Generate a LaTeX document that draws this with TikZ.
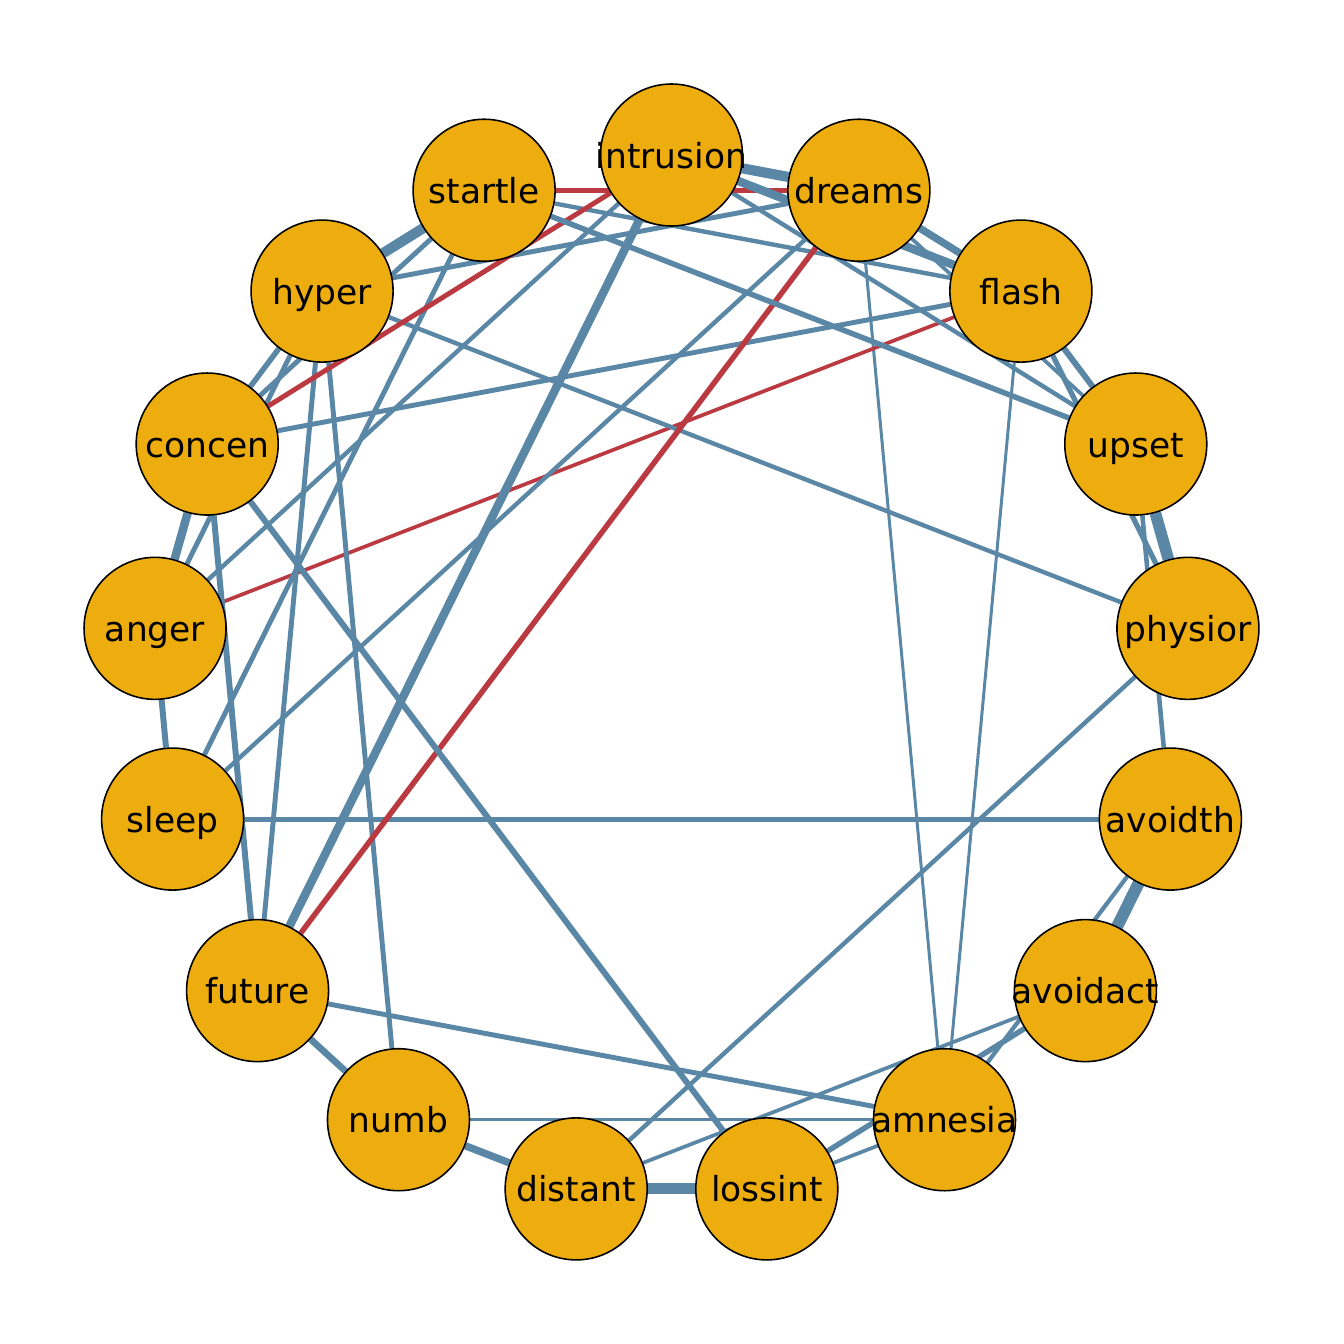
\documentclass[tikz,border=0pt]{standalone}
\usepackage{fontspec}
\setmainfont{DejaVu Sans}
\usetikzlibrary{backgrounds}
\definecolor{nodefill}{RGB}{238,173,14}
\definecolor{posedge}{RGB}{89,135,165}
\definecolor{negedge}{RGB}{187,57,64}

\begin{document}
\begin{tikzpicture}
    \tikzstyle{symptom}     = [circle, draw, line width=0.45pt, fill=nodefill, minimum size=1.42cm, inner sep=0pt]
    \tikzstyle{every label} = [font=\fontsize{9.8}{11}\selectfont, inner sep=0pt, text height=0.74em, text depth=0pt]
    \tikzstyle{poslink}     = [draw, posedge]
    \tikzstyle{neglink}     = [draw, negedge]

    \useasboundingbox (-6.715,-6.676) rectangle (6.725,6.764);

    % Place nodes
    % ring, clockwise from the top:
    \node [symptom, label=center:intrusion] (intrusion) at (90:5.187 and 5.214) {};
    \node [symptom, label=center:dreams]    (dreams)    at (68.82:5.187 and 5.214) {};
    \node [symptom, label=center:flash]     (flash)     at (47.65:5.187 and 5.214) {};
    \node [symptom, label=center:upset]     (upset)     at (26.47:5.187 and 5.214) {};
    \node [symptom, label=center:physior]   (physior)   at (5.29:5.187 and 5.214) {};
    \node [symptom, label=center:avoidth]   (avoidth)   at (-15.88:5.187 and 5.214) {};
    \node [symptom, label=center:avoidact]  (avoidact)  at (-37.06:5.187 and 5.214) {};
    \node [symptom, label=center:amnesia]   (amnesia)   at (-58.24:5.187 and 5.214) {};
    \node [symptom, label=center:lossint]   (lossint)   at (-79.41:5.187 and 5.214) {};
    \node [symptom, label=center:distant]   (distant)   at (-100.59:5.187 and 5.214) {};
    \node [symptom, label=center:numb]      (numb)      at (-121.76:5.187 and 5.214) {};
    \node [symptom, label=center:future]    (future)    at (-142.94:5.187 and 5.214) {};
    \node [symptom, label=center:sleep]     (sleep)     at (-164.12:5.187 and 5.214) {};
    \node [symptom, label=center:anger]     (anger)     at (174.71:5.187 and 5.214) {};
    \node [symptom, label=center:concen]    (concen)    at (153.53:5.187 and 5.214) {};
    \node [symptom, label=center:hyper]     (hyper)     at (132.35:5.187 and 5.214) {};
    \node [symptom, label=center:startle]   (startle)   at (111.18:5.187 and 5.214) {};

    \begin{pgfonlayer}{background}
    % thin ones
    \path [poslink, line width=0.85pt] (numb) -- (amnesia);
    \path [poslink, line width=0.85pt] (amnesia) -- (dreams);
    \path [poslink, line width=0.85pt] (amnesia) -- (flash);
    \path [poslink, line width=1.05pt] (distant) -- (avoidact);
    \path [poslink, line width=1.3pt]  (upset) -- (avoidth);
    \path [poslink, line width=1.05pt] (dreams) -- (upset);
    \path [poslink, line width=1.05pt] (lossint) -- (amnesia);
    \path [poslink, line width=1.2pt]  (avoidth) -- (amnesia);
    \path [neglink, line width=1.05pt] (anger) -- (flash);
    \path [poslink, line width=1.25pt] (distant) -- (physior);
    \path [poslink, line width=1.25pt] (startle) -- (flash);
    \path [poslink, line width=1.25pt] (intrusion) -- (upset);
    \path [poslink, line width=1.25pt] (sleep) -- (dreams);
    \path [poslink, line width=1.25pt] (anger) -- (intrusion);
    \path [poslink, line width=1.25pt] (hyper) -- (physior);
    % medium
    \path [poslink, line width=1.4pt]  (concen) -- (flash);
    \path [poslink, line width=1.4pt]  (hyper) -- (future);
    \path [poslink, line width=1.4pt]  (hyper) -- (numb);
    \path [poslink, line width=1.4pt]  (sleep) -- (avoidth);
    \path [poslink, line width=1.4pt]  (sleep) -- (startle);
    \path [poslink, line width=1.4pt]  (concen) -- (startle);
    \path [poslink, line width=1.4pt]  (anger) -- (hyper);
    \path [poslink, line width=1.4pt]  (hyper) -- (dreams);
    \path [poslink, line width=1.4pt]  (future) -- (amnesia);
    \path [poslink, line width=1.5pt]  (flash) -- (physior);
    \path [neglink, line width=1.4pt]  (startle) -- (dreams);
    \path [neglink, line width=1.4pt]  (concen) -- (intrusion);
    \path [neglink, line width=1.55pt] (future) -- (dreams);
    \path [poslink, line width=1.55pt] (startle) -- (upset);
    \path [poslink, line width=1.55pt] (concen) -- (hyper);
    \path [poslink, line width=1.55pt] (lossint) -- (avoidact);
    \path [poslink, line width=1.7pt]  (anger) -- (sleep);
    \path [poslink, line width=1.7pt]  (concen) -- (future);
    \path [poslink, line width=1.7pt]  (concen) -- (lossint);
    \path [poslink, line width=1.7pt]  (flash) -- (upset);
    % thick ones
    \path [poslink, line width=1.9pt]  (future) -- (numb);
    \path [poslink, line width=2.1pt]  (dreams) -- (flash);
    \path [poslink, line width=2.1pt]  (numb) -- (distant);
    \path [poslink, line width=2.4pt]  (concen) -- (anger);
    \path [poslink, line width=2.4pt]  (intrusion) -- (flash);
    \path [poslink, line width=2.4pt]  (intrusion) -- (future);
    \path [poslink, line width=3.1pt]  (distant) -- (lossint);
    \path [poslink, line width=3.3pt]  (upset) -- (physior);
    \path [poslink, line width=2.9pt]  (intrusion) -- (dreams);
    \path [poslink, line width=2.9pt]  (hyper) -- (startle);
    \path [poslink, line width=3.4pt]  (avoidth) -- (avoidact);
    \end{pgfonlayer}
\end{tikzpicture}
\end{document}
